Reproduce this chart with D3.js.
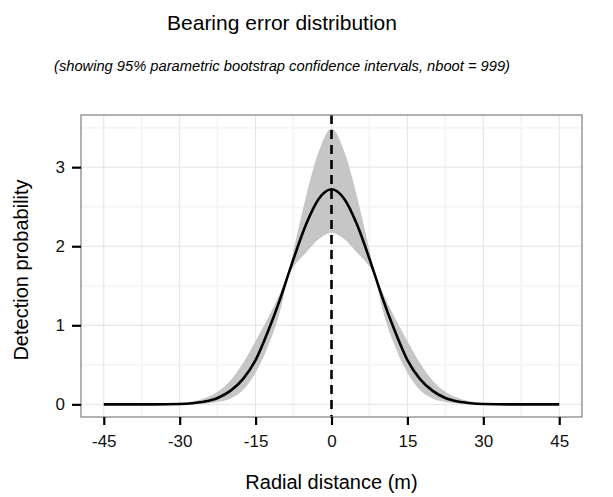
<!DOCTYPE html>
<meta charset="utf-8">

<head>
  <!-- Load d3.js -->
  <script src="https://d3js.org/d3.v7.min.js"></script>

  <style>
    body { margin: 0; background: #fff; }
    text { font-family: "Liberation Sans", Arial, Helvetica, sans-serif; }
  </style>
</head>

<body>
  <div id="bearing_plot"></div>

  <script>

    var distance = [-45, -40, -35, -30, -27.5, -25, -22.5, -20, -17.5, -15, -12.5, -10, -8.5, -7.5, -5, -2.5, 0,
      2.5, 5, 7.5, 8.5, 10, 12.5, 15, 17.5, 20, 22.5, 25, 27.5, 30, 35, 40, 45];

    // fitted bearing error curve
    var fitted = [0, 0, 0, 0.005, 0.014, 0.035, 0.08, 0.17, 0.32, 0.56, 0.93, 1.36, 1.65, 1.84, 2.28, 2.60, 2.72,
      2.60, 2.28, 1.84, 1.65, 1.36, 0.93, 0.56, 0.32, 0.17, 0.08, 0.035, 0.014, 0.005, 0, 0, 0];

    // 95% bootstrap bounds
    var upper = [0, 0, 0.002, 0.015, 0.035, 0.08, 0.16, 0.30, 0.52, 0.80, 1.10, 1.43, 1.67, 1.95, 2.64, 3.20, 3.49,
      3.20, 2.64, 1.95, 1.67, 1.43, 1.10, 0.80, 0.52, 0.30, 0.16, 0.08, 0.035, 0.015, 0.002, 0, 0];
    var lower = [0, 0, 0, 0.001, 0.003, 0.01, 0.03, 0.07, 0.18, 0.40, 0.74, 1.22, 1.63, 1.74, 1.92, 2.09, 2.17,
      2.09, 1.92, 1.74, 1.63, 1.22, 0.74, 0.40, 0.18, 0.07, 0.03, 0.01, 0.003, 0.001, 0, 0, 0];

    var xTicks = [-45, -30, -15, 0, 15, 30, 45];
    var xMinor = [-37.5, -22.5, -7.5, 7.5, 22.5, 37.5];
    var yTicks = [0, 1, 2, 3];
    var yMinor = [0.5, 1.5, 2.5, 3.5];

    // set the dimensions and margins of the graph
    var margin = { top: 115, right: 31, bottom: 80, left: 81 },
      width = 613 - margin.left - margin.right,
      height = 497 - margin.top - margin.bottom;

    var svg = d3.select("#bearing_plot")
      .append("svg")
      .attr("width", 613)
      .attr("height", 497);

    var g = svg.append("g")
      .attr("transform", "translate(" + margin.left + "," + margin.top + ")");

    var x = d3.scaleLinear()
      .domain([-49.5, 49.5])
      .range([0, width]);

    var y = d3.scaleLinear()
      .domain([-0.16, 3.66])
      .range([height, 0]);

    // minor grid
    g.selectAll(".minorX")
      .data(xMinor)
      .enter()
      .append("line")
      .attr("x1", function (d) { return x(d); })
      .attr("x2", function (d) { return x(d); })
      .attr("y1", 0)
      .attr("y2", height)
      .attr("stroke", "#f5f5f5")
      .attr("stroke-width", 2);
    g.selectAll(".minorY")
      .data(yMinor)
      .enter()
      .append("line")
      .attr("y1", function (d) { return y(d); })
      .attr("y2", function (d) { return y(d); })
      .attr("x1", 0)
      .attr("x2", width)
      .attr("stroke", "#f5f5f5")
      .attr("stroke-width", 2);

    // major grid
    g.selectAll(".majorX")
      .data(xTicks)
      .enter()
      .append("line")
      .attr("x1", function (d) { return x(d); })
      .attr("x2", function (d) { return x(d); })
      .attr("y1", 0)
      .attr("y2", height)
      .attr("stroke", "#e3e3e3")
      .attr("stroke-width", 1);
    g.selectAll(".majorY")
      .data(yTicks)
      .enter()
      .append("line")
      .attr("y1", function (d) { return y(d); })
      .attr("y2", function (d) { return y(d); })
      .attr("x1", 0)
      .attr("x2", width)
      .attr("stroke", "#e3e3e3")
      .attr("stroke-width", 1);

    // confidence band
    g.append("path")
      .datum(distance)
      .attr("fill", "#c6c6c6")
      .attr("d", d3.area()
        .curve(d3.curveMonotoneX)
        .x(function (d) { return x(d); })
        .y0(function (d, i) { return y(lower[i]); })
        .y1(function (d, i) { return y(upper[i]); })
      );

    // fitted curve
    g.append("path")
      .datum(distance)
      .attr("fill", "none")
      .attr("stroke", "#000")
      .attr("stroke-width", 2.6)
      .attr("d", d3.line()
        .curve(d3.curveMonotoneX)
        .x(function (d) { return x(d); })
        .y(function (d, i) { return y(fitted[i]); })
      );

    // dashed line at zero
    g.append("line")
      .attr("x1", x(0))
      .attr("x2", x(0))
      .attr("y1", 0)
      .attr("y2", height)
      .attr("stroke", "#000")
      .attr("stroke-width", 2.6)
      .attr("stroke-dasharray", "9,6");

    // panel border
    g.append("rect")
      .attr("x", 0)
      .attr("y", 0)
      .attr("width", width)
      .attr("height", height)
      .attr("fill", "none")
      .attr("stroke", "#7f7f7f")
      .attr("stroke-width", 1.2);

    // axes (plain hyphen for negatives, like the original)
    var plain = function (d) { return String(d); };

    var xAxis = g.append("g")
      .attr("transform", "translate(0," + height + ")")
      .call(d3.axisBottom(x).tickValues(xTicks).tickFormat(plain).tickSize(8).tickPadding(10));
    xAxis.select(".domain").remove();

    var yAxis = g.append("g")
      .call(d3.axisLeft(y).tickValues(yTicks).tickFormat(plain).tickSize(9).tickPadding(7));
    yAxis.select(".domain").remove();

    [xAxis, yAxis].forEach(function (a) {
      a.attr("font-size", null).attr("font-family", null);
      a.selectAll("line").attr("stroke", "#000").attr("stroke-width", 2.2);
      a.selectAll("text")
        .attr("fill", "#111")
        .style("font-size", "17px");
    });

    // titles
    svg.append("text")
      .attr("x", 282)
      .attr("y", 30)
      .attr("text-anchor", "middle")
      .style("font-size", "21px")
      .text("Bearing error distribution");

    svg.append("text")
      .attr("x", 282)
      .attr("y", 71)
      .attr("text-anchor", "middle")
      .style("font-size", "14.7px")
      .style("font-style", "italic")
      .text("(showing 95% parametric bootstrap confidence intervals, nboot = 999)");

    svg.append("text")
      .attr("x", margin.left + width / 2)
      .attr("y", 489)
      .attr("text-anchor", "middle")
      .style("font-size", "20px")
      .text("Radial distance (m)");

    svg.append("text")
      .attr("transform", "translate(28,270) rotate(-90)")
      .attr("text-anchor", "middle")
      .style("font-size", "20px")
      .text("Detection probability");

  </script>
</body>
